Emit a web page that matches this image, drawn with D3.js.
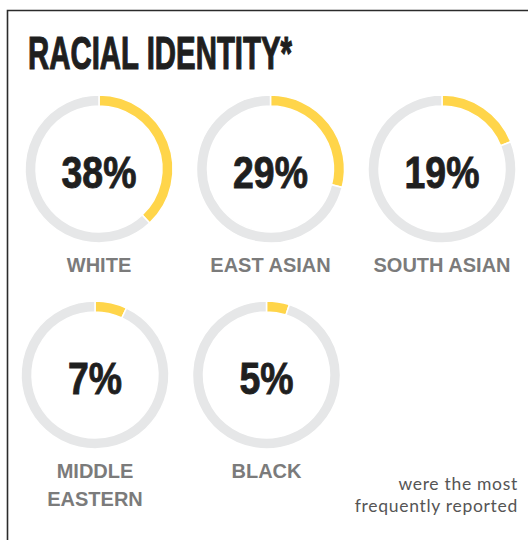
<!DOCTYPE html>
<html>
<head>
<meta charset="utf-8">
<script src="https://cdn.jsdelivr.net/npm/d3@7/dist/d3.min.js"></script>
<style>
  html, body { margin: 0; padding: 0; background: #fff; }
  svg { display: block; }
</style>
</head>
<body>
<svg id="chart" width="528" height="540"></svg>
<script>
// Share of respondents by racial identity
const categories = ["WHITE", "EAST ASIAN", "SOUTH ASIAN", "MIDDLE EASTERN", "BLACK"];
const labelLines = [["WHITE"], ["EAST ASIAN"], ["SOUTH ASIAN"], ["MIDDLE", "EASTERN"], ["BLACK"]];
const percents = [38, 29, 19, 7, 5];
const title = "RACIAL IDENTITY*";
const note = ["were the most", "frequently reported"];

const W = 528, H = 540;
const svg = d3.select("#chart");

const yellow = "#FFD54A";
const grey = "#E6E7E8";
const ink = "#1f1f1f";
const condensedFont = "'Liberation Sans', Arial, sans-serif";

// frame: top and left rules
svg.append("path")
  .attr("d", `M7.5,${H} V10.5 H${W}`)
  .attr("fill", "none")
  .attr("stroke", "#2b2b2b")
  .attr("stroke-width", 1.6);

// title, squeezed into a condensed heavy face
svg.append("text")
  .attr("x", 28).attr("y", 69)
  .attr("textLength", 264)
  .attr("lengthAdjust", "spacingAndGlyphs")
  .style("font-family", condensedFont)
  .style("font-weight", 700)
  .style("font-size", "47px")
  .attr("fill", ink)
  .attr("stroke", ink)
  .attr("stroke-width", 1.2)
  .text(title);

// grid placement: three per row, second row slightly shifted left
const colX = d3.scalePoint().domain([0, 1, 2]).range([99, 442]);
const rowY = d3.scalePoint().domain([0, 1]).range([169, 375]);
const rowShift = [0, -4];

const outerR = 74, innerR = 63;
const pie = d3.pie().sort(null).value(d => d);
const arc = d3.arc().innerRadius(innerR).outerRadius(outerR);

categories.forEach((cat, i) => {
  const row = Math.floor(i / 3), col = i % 3;
  const cx = colX(col) + rowShift[row];
  const cy = rowY(row);
  const g = svg.append("g").attr("transform", `translate(${cx},${cy})`);

  g.selectAll("path")
    .data(pie([percents[i], 100 - percents[i]]))
    .join("path")
    .attr("d", arc)
    .attr("fill", (d, j) => j === 0 ? yellow : grey)
    .attr("stroke", "#fff")
    .attr("stroke-width", 1.5);

  // big figure, horizontally condensed
  g.append("text")
    .attr("transform", "translate(0,19) scale(0.85,1)")
    .attr("text-anchor", "middle")
    .style("font-family", condensedFont)
    .style("font-weight", 700)
    .style("font-size", "44px")
    .attr("fill", ink)
    .attr("stroke", ink)
    .attr("stroke-width", 0.9)
    .text(percents[i] + "%");

  labelLines[i].forEach((line, k) => {
    g.append("text")
      .attr("x", 0).attr("y", 103 + k * 28)
      .attr("text-anchor", "middle")
      .style("font-family", "'Liberation Sans', Arial, sans-serif")
      .style("font-weight", 700)
      .style("font-size", "20px")
      .attr("fill", "#7b7b7b")
      .text(line);
  });
});

// closing note
note.forEach((line, k) => {
  svg.append("text")
    .attr("x", 518).attr("y", 490 + k * 22)
    .attr("text-anchor", "end")
    .style("font-family", "Lato, 'Open Sans', sans-serif")
    .style("font-weight", 400)
    .style("font-size", "17.5px")
    .style("letter-spacing", "0.7px")
    .attr("fill", "#555")
    .text(line);
});
</script>
</body>
</html>
